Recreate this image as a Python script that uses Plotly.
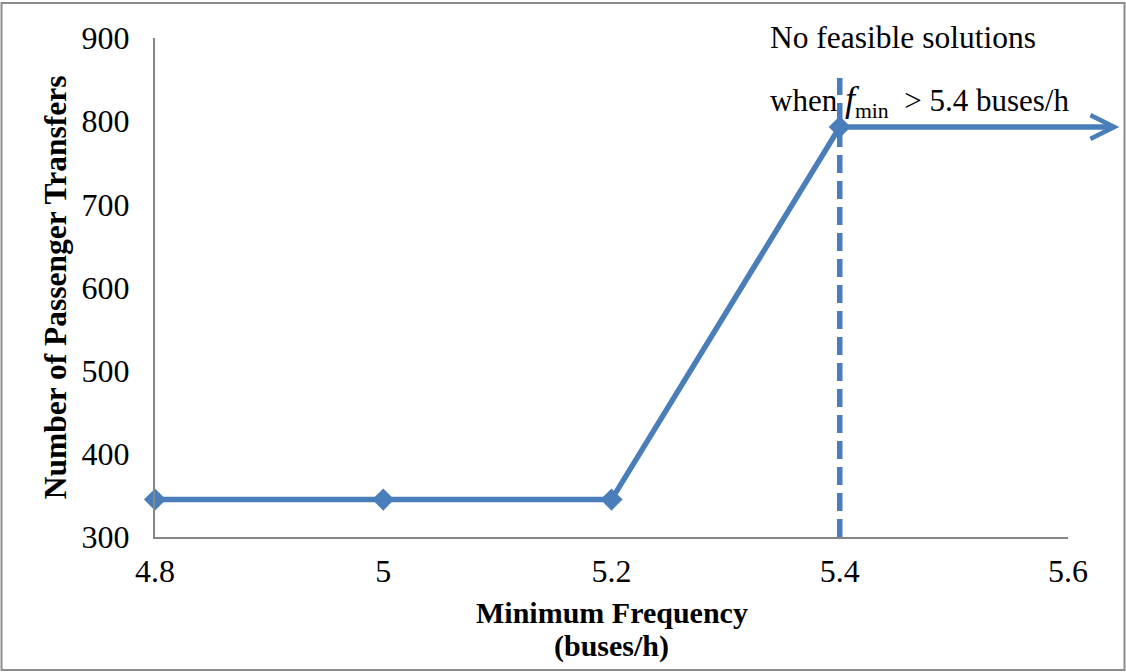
import plotly.graph_objects as go

# Data
min_freq = [4.8, 5.0, 5.2, 5.4]
transfers = [345, 345, 345, 793]
infeasible_start = 5.4
arrow_end_x = 5.645
dash_top = 852
x_ticks = [4.8, 5.0, 5.2, 5.4, 5.6]
x_ticklabels = ["4.8", "5", "5.2", "5.4", "5.6"]
y_ticks = [300, 400, 500, 600, 700, 800, 900]

blue = "#4a7ebb"
font_family = "Liberation Serif"

fig = go.Figure()

fig.add_trace(go.Scatter(
    x=min_freq, y=transfers, mode="lines+markers",
    line=dict(color=blue, width=5.5),
    marker=dict(symbol="diamond", size=17, color=blue),
    cliponaxis=False, showlegend=False, hoverinfo="x+y",
))

# dashed vertical line at 5.4
fig.add_shape(type="line", xref="x", yref="y",
              x0=infeasible_start, x1=infeasible_start, y0=300, y1=dash_top,
              line=dict(color=blue, width=5.5, dash="18px,8px"))

# arrow
fig.add_annotation(x=arrow_end_x, y=transfers[-1], ax=infeasible_start, ay=transfers[-1],
                   xref="x", yref="y", axref="x", ayref="y", text="",
                   showarrow=True, arrowhead=5, arrowwidth=5.5, arrowsize=0.85,
                   arrowcolor=blue, standoff=0, startstandoff=0)

fig.add_annotation(x=0.6709, y=1.002, xref="paper", yref="paper", xanchor="left", yanchor="middle",
                   text="No feasible solutions", showarrow=False,
                   font=dict(family=font_family, size=31.5, color="black"))
fig.add_annotation(x=0.6709, y=0.874, xref="paper", yref="paper", xanchor="left", yanchor="middle",
                   text="when <span style='font-size:36px'><i>f</i></span><sub>min</sub>  > 5.4 buses/h",
                   showarrow=False,
                   font=dict(family=font_family, size=31, color="black"))

# x axis title (two lines)
fig.add_annotation(x=0.5, y=-0.152, xref="paper", yref="paper", xanchor="center", yanchor="middle",
                   text="<b>Minimum Frequency</b>", showarrow=False,
                   font=dict(family=font_family, size=30, color="black"))
fig.add_annotation(x=0.5, y=-0.218, xref="paper", yref="paper", xanchor="center", yanchor="middle",
                   text="<b>(buses/h)</b>", showarrow=False,
                   font=dict(family=font_family, size=30, color="black"))

# outer border
fig.add_shape(type="rect", xref="paper", yref="paper",
              x0=-0.1681, x1=1.0619, y0=-0.2665, y1=1.0701,
              line=dict(color="#8c8c8c", width=2))

fig.update_layout(
    width=1126, height=672,
    margin=dict(l=155, r=58, t=38, b=135, autoexpand=False),
    paper_bgcolor="white", plot_bgcolor="white",
    font=dict(family=font_family, size=30, color="black"),
    xaxis=dict(range=[4.8, 5.6], tickvals=x_ticks, ticktext=x_ticklabels,
               showgrid=False, zeroline=False, showline=True, linecolor="#868686",
               linewidth=2, ticks="", tickfont=dict(family=font_family, size=32),
               ticklabelstandoff=5, automargin=False),
    yaxis=dict(range=[300, 900], tickvals=y_ticks, showgrid=False, zeroline=False,
               showline=True, linecolor="#868686", linewidth=2, ticks="",
               tickfont=dict(family=font_family, size=32), ticklabelstandoff=17,
               title=dict(text="<b>Number of Passenger Transfers</b>",
                          font=dict(family=font_family, size=31.5), standoff=6),
               automargin=False),
)

fig.write_html("out.html")
